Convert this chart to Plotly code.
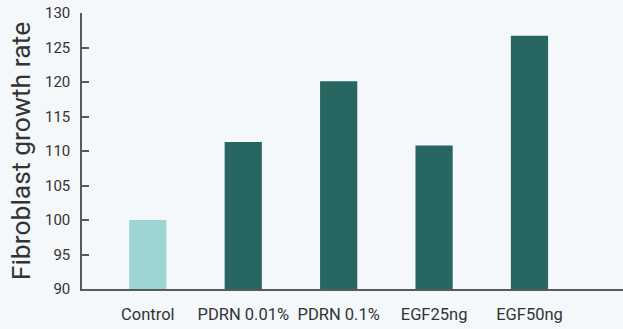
import plotly.graph_objects as go

# Fibroblast growth rate by treatment group
categories = ["Control", "PDRN 0.01%", "PDRN 0.1%", "EGF25ng", "EGF50ng"]
growth_rate = [100, 111.3, 120.1, 110.8, 126.7]
bar_colors = ["#9dd5d5", "#286661", "#286661", "#286661", "#286661"]

y_ticks = [90, 95, 100, 105, 110, 115, 120, 125, 130]

FONT = "Roboto"
BG = "#f4f8fb"
TEXT = "#333333"
AXIS = "#5a5a5a"

fig = go.Figure(
    go.Bar(
        x=categories,
        y=growth_rate,
        marker=dict(color=bar_colors, line=dict(width=0)),
        width=0.39,
    )
)

fig.update_layout(
    width=623,
    height=329,
    margin=dict(l=82, r=0, t=13, b=40),
    paper_bgcolor=BG,
    plot_bgcolor=BG,
    showlegend=False,
    font=dict(family=FONT, color=TEXT),
)

fig.update_xaxes(
    type="category",
    range=[-0.69, 4.98],
    showline=True,
    linecolor=AXIS,
    linewidth=1.5,
    ticks="",
    showgrid=False,
    tickfont=dict(size=16.5, color=TEXT, family=FONT),
    ticklabelstandoff=9,
)

fig.update_yaxes(
    range=[90, 130],
    tickvals=y_ticks,
    showline=True,
    linecolor=AXIS,
    linewidth=1.5,
    ticks="inside",
    ticklen=7,
    tickwidth=1.5,
    tickcolor=AXIS,
    showgrid=False,
    zeroline=False,
    tickfont=dict(size=15, color=TEXT, family=FONT),
    ticklabelstandoff=7,
    title=dict(text="Fibroblast growth rate", font=dict(size=26.5, color=TEXT, family=FONT), standoff=7),
)

fig.write_html("out.html")
